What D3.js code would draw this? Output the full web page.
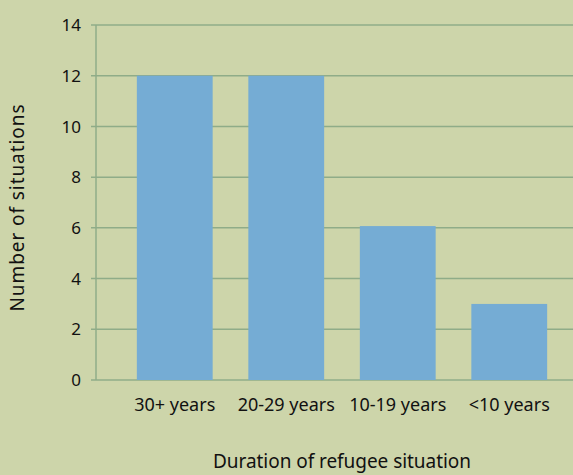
<!DOCTYPE html>
<html>
<head>
<meta charset="utf-8">
<script src="https://cdn.jsdelivr.net/npm/d3@7"></script>
<style>
  body { margin: 0; background: #cdd5aa; }
  text { font-family: "Noto Sans", sans-serif; fill: #111; }
</style>
</head>
<body>
<div id="chart"></div>
<script>
var categories = ['30+ years', '20-29 years', '10-19 years', '<10 years'];
var situations = [12, 12, 6.07, 3];
var yTicks = [0, 2, 4, 6, 8, 10, 12, 14];

var width = 573,
  height = 475;

var barColor = '#75acd4',
  gridColor = '#8fac88';

var svg = d3.select('#chart').append('svg')
  .attr('width', width)
  .attr('height', height);

svg.append('rect')
  .attr('width', width)
  .attr('height', height)
  .attr('fill', '#cdd5aa');

var x = d3.scaleBand()
  .domain(categories)
  .range([119, 565])
  .paddingInner(0.32)
  .paddingOuter(0.16);

var y = d3.scaleLinear()
  .domain([0, 14])
  .range([380, 25]);

// gridlines
svg.append('g')
  .selectAll('line')
  .data(yTicks)
  .enter().append('line')
  .attr('x1', 91)
  .attr('x2', width)
  .attr('y1', function(d) { return y(d); })
  .attr('y2', function(d) { return y(d); })
  .attr('stroke', gridColor)
  .attr('stroke-width', 1.5);

// y axis line
svg.append('line')
  .attr('x1', 96).attr('x2', 96)
  .attr('y1', y(14)).attr('y2', y(0))
  .attr('stroke', gridColor)
  .attr('stroke-width', 1.5);

svg.append('g')
  .selectAll('text')
  .data(yTicks)
  .enter().append('text')
  .attr('x', 81)
  .attr('y', function(d) { return y(d); })
  .attr('dy', '0.36em')
  .attr('text-anchor', 'end')
  .attr('font-size', 17)
  .text(function(d) { return d; });

svg.append('g')
  .selectAll('rect')
  .data(situations)
  .enter().append('rect')
  .attr('x', function(d, i) { return x(categories[i]); })
  .attr('y', function(d) { return y(d); })
  .attr('width', x.bandwidth())
  .attr('height', function(d) { return y(0) - y(d); })
  .attr('fill', barColor);

svg.append('g')
  .selectAll('text')
  .data(categories)
  .enter().append('text')
  .attr('x', function(d) { return x(d) + x.bandwidth() / 2; })
  .attr('y', 411)
  .attr('text-anchor', 'middle')
  .attr('font-size', 18)
  .text(function(d) { return d; });

svg.append('text')
  .attr('x', 342)
  .attr('y', 468)
  .attr('text-anchor', 'middle')
  .attr('font-size', 19)
  .attr('textLength', 258)
  .attr('lengthAdjust', 'spacing')
  .text('Duration of refugee situation');

svg.append('text')
  .attr('transform', 'translate(24,208) rotate(-90)')
  .attr('text-anchor', 'middle')
  .attr('font-size', 19)
  .attr('textLength', 207)
  .attr('lengthAdjust', 'spacing')
  .text('Number of situations');
</script>
</body>
</html>
